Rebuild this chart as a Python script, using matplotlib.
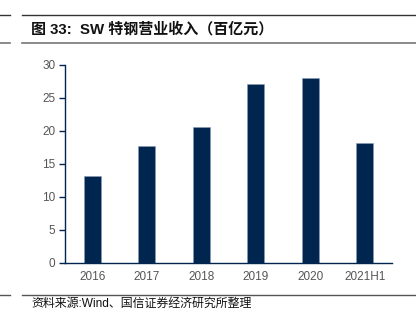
import matplotlib
matplotlib.use("Agg")
import matplotlib.pyplot as plt
from matplotlib.lines import Line2D

# SW special steel revenue (hundred million yuan)
years = ["2016", "2017", "2018", "2019", "2020", "2021H1"]
revenue = [13.1, 17.6, 20.5, 27.0, 28.0, 18.1]
y_ticks = [0, 5, 10, 15, 20, 25, 30]

title = "图 33:  SW 特钢营业收入（百亿元）"
source = "资料来源:Wind、国信证券经济研究所整理"

FONTS = ["Liberation Sans", "Noto Sans CJK SC", "DejaVu Sans"]
NAVY = "#00264F"
GREY = "#555555"
plt.rcParams["font.family"] = FONTS

fig = plt.figure(figsize=(4.16, 3.27), dpi=100)
ax = fig.add_axes([65 / 416, 1 - 262.5 / 327, 327 / 416, 198 / 327])

x = range(len(years))
ax.bar(x, revenue, width=0.31, color=NAVY, edgecolor="#8A9BB5", linewidth=0.4)

ax.set_xlim(-0.5, len(years) - 0.5)
ax.set_ylim(0, 30)
ax.set_yticks(y_ticks)
ax.set_xticks(list(x))
ax.set_xticklabels(years)

for s in ["top", "right"]:
    ax.spines[s].set_visible(False)
for s in ["left", "bottom"]:
    ax.spines[s].set_color(NAVY)
    ax.spines[s].set_linewidth(1.0)

ax.tick_params(axis="y", length=4, width=1.0, color=NAVY, labelcolor=GREY,
               labelsize=8.5, pad=3)
ax.tick_params(axis="x", length=0, labelcolor=GREY, labelsize=8.5, pad=6)

# header / footer rules
def hline(y, x0, x1, color="#333333", lw=1.0):
    fig.add_artist(Line2D([x0 / 416, x1 / 416], [1 - y / 327, 1 - y / 327],
                          color=color, lw=lw, transform=fig.transFigure))

hline(15, 22, 416)
hline(15, 0, 10)
hline(43, 22, 416, color="#777777", lw=1.2)
hline(43, 0, 10, color="#777777", lw=1.2)
hline(295, 22, 416, color="#555555")
hline(295, 0, 10, color="#555555")

fig.text(31 / 416, 1 - 29 / 327, title, fontsize=10.8, fontweight="bold",
         color="#111111", va="center", ha="left")
fig.text(31 / 416, 1 - 304 / 327, source, fontsize=8.6, color="#111111",
         va="center", ha="left")

fig.savefig("out.png", dpi=100)
